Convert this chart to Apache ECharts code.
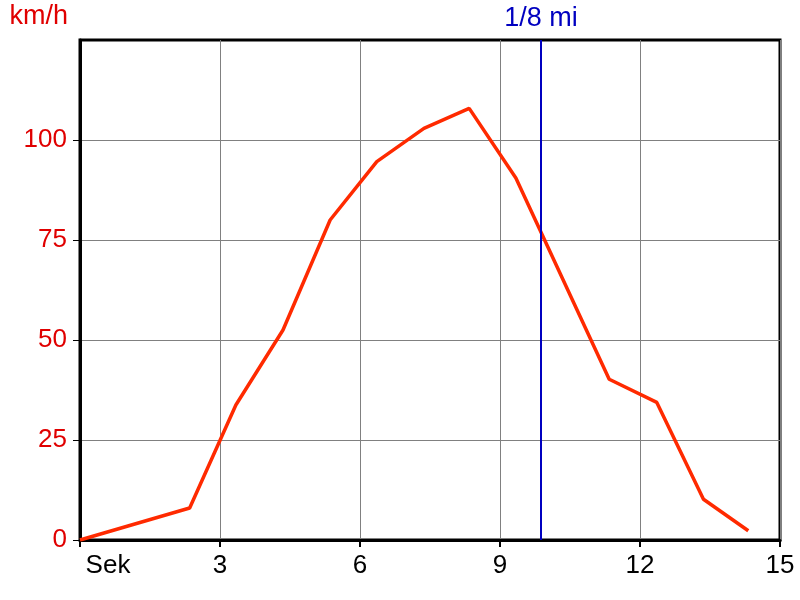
<!DOCTYPE html>
<html>
<head>
<meta charset="utf-8">
<script src="https://cdn.jsdelivr.net/npm/echarts@6/dist/echarts.min.js"></script>
<style>html,body{margin:0;padding:0;background:#fff;}#c{width:800px;height:600px;}</style>
</head>
<body>
<div id="c"></div>
<script>
const times = [0, 2.35, 3.34, 4.35, 5.36, 6.36, 7.37, 8.34, 9.34, 11.34, 12.36, 13.36, 14.32];
const speeds = [0, 8, 33.75, 52.5, 80, 94.6, 102.9, 107.9, 90.5, 40.2, 34.4, 10.2, 2.3];
const yTicks = [0, 25, 50, 75, 100];
const xTicks = [0, 3, 6, 9, 12, 15];
const markerTime = 9.88;
const markerLabel = '1/8 mi';
const xUnit = 'Sek';
const yUnit = 'km/h';

const font = 'Liberation Sans, Arial, sans-serif';
const fs = 26;
const chart = echarts.init(document.getElementById('c'));
chart.setOption({
  animation: false,
  backgroundColor: '#fff',
  grid: { left: 80, right: 20, top: 40, bottom: 60, show: true, borderColor: '#000', borderWidth: 3, backgroundColor: 'transparent' },
  xAxis: {
    type: 'value', min: 0, max: 15, interval: 3,
    axisLine: { show: true, lineStyle: { color: '#000', width: 3 } },
    axisTick: { show: true, length: 7, inside: false, customValues: xTicks, lineStyle: { color: '#000', width: 2 } },
    splitLine: { show: true, lineStyle: { color: '#808080', width: 1 } },
    axisLabel: {
      margin: 13, color: '#000', fontSize: fs, fontFamily: font, customValues: xTicks,
      formatter: function (v) { return v === 0 ? '{s|' + xUnit + '}' : String(v); },
      rich: { s: { fontSize: fs, fontFamily: font, color: '#000', padding: [0, 0, 0, 56] } }
    }
  },
  yAxis: {
    type: 'value', min: 0, max: 125, interval: 25,
    name: yUnit, nameLocation: 'end', nameGap: 10,
    nameTextStyle: { color: '#e00000', fontSize: 27, fontFamily: font, align: 'right', padding: [0, 12, 0, 0] },
    axisLine: { show: true, lineStyle: { color: '#000', width: 3 } },
    axisTick: { show: true, length: 7, customValues: yTicks, lineStyle: { color: '#000', width: 1 } },
    splitLine: { show: true, lineStyle: { color: '#808080', width: 1 } },
    axisLabel: { margin: 13, color: '#e00000', fontSize: fs, fontFamily: font, customValues: yTicks }
  },
  series: [{
    type: 'line',
    data: times.map((t, i) => [t, speeds[i]]),
    showSymbol: false,
    lineStyle: { color: '#ff2a00', width: 3.5 },
    itemStyle: { color: '#ff2a00' },
    markLine: {
      silent: true, symbol: 'none',
      lineStyle: { color: '#0000c0', width: 2, type: 'solid' },
      label: { show: true, position: 'end', formatter: markerLabel, color: '#0000c0', fontSize: 27, fontFamily: font, distance: 8 },
      data: [{ xAxis: markerTime }]
    }
  }]
});
</script>
</body>
</html>
